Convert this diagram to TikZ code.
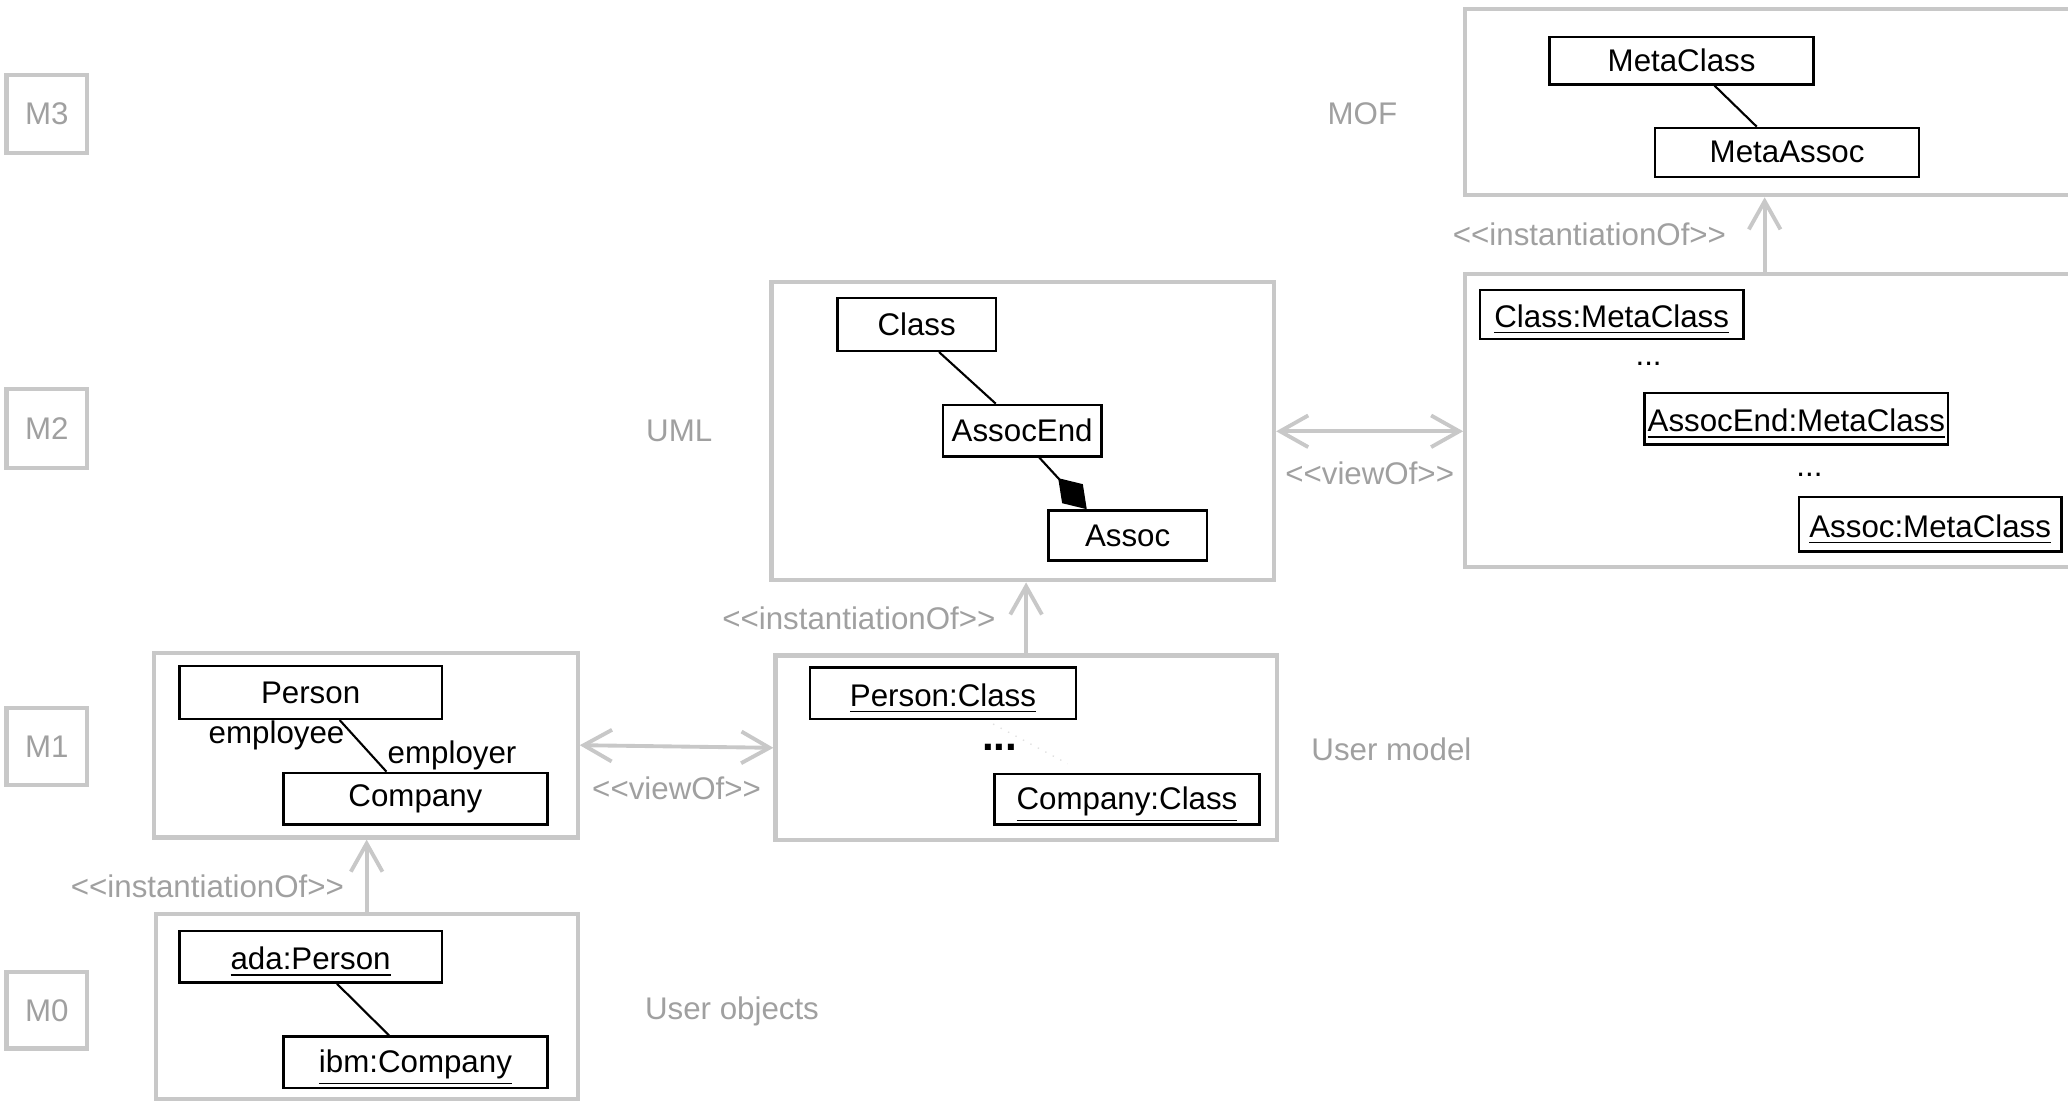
\documentclass[tikz,border=0pt]{standalone}
\usepackage{fontspec}
\setmainfont{Liberation Sans}
\usetikzlibrary{arrows.meta,fit,calc,positioning}
\definecolor{framegray}{RGB}{200,200,200}
\definecolor{labelgray}{RGB}{160,160,160}
\newcommand{\stereo}[1]{<\kern0pt<#1>\kern0pt>}

\begin{document}
\begin{tikzpicture}[x=0.013189cm, y=-0.013189cm,
		every node/.style={font=\fontsize{8.9}{10.7}\selectfont},
		every label/.style={inner sep=0},
		level/.style={draw=framegray, line width=1.2pt, inner sep=0},
		layer/.style={draw=framegray, line width=1.2pt, inner sep=0},
		cls/.style={draw, line width=0.7pt, inner sep=0},
		obj/.style={cls, label={[yshift=-1.5pt]center:\underline{#1}}},
		note/.style={text=labelgray},
		link/.style={line width=0.6pt},
		inst/.style={draw=framegray, line width=1.1pt, -{Straight Barb[length=8pt,width=9pt]}},
		view/.style={draw=framegray, line width=1.1pt, {Straight Barb[length=8pt,width=9pt]}-{Straight Barb[length=8pt,width=9pt]}}]
		\useasboundingbox (0,0) rectangle (1568,836);
		% levels
		\node[level, fit={(5,57) (66,116)}, label={[text=labelgray]center:M3}] (m3) {};
		\node[level, fit={(5,295) (66,355)}, label={[text=labelgray]center:M2}] (m2) {};
		\node[level, fit={(5,537) (66,595)}, label={[text=labelgray]center:M1}] (m1) {};
		\node[level, fit={(5,737) (66,795)}, label={[text=labelgray]center:M0}] (m0) {};
		\node[note] (moflabel) at (1033,86) {MOF};
		\node[note] (umllabel) at (515,327) {UML};
		\node[note] (modellabel) at (1055,568) {User model};
		\node[note] (objectslabel) at (555,767) {User objects};
		% M3
		\node[layer, fit={(1111,7) (1575,148)}] (mof) {};
		\node[cls, fit={(1175,28) (1375,64)}, label=center:MetaClass] (metaclass) {};
		\node[cls, fit={(1255,97) (1455,134)}, label=center:MetaAssoc] (metaassoc) {};
		\draw[link] ($(metaclass.south)+(25,0)$) -- ($(metaassoc.north)+(-23,0)$);
		% M2
		\node[layer, fit={(1111,208) (1575,430)}] (metaobj) {};
		\node[obj=Class:MetaClass, fit={(1122,220) (1322,257)}] (classobj) {};
		\node (dotsa) at (1250,276) {...};
		\node[obj=AssocEnd:MetaClass, fit={(1247,298) (1477,337)}] (assocendobj) {};
		\node (dotsb) at (1372,360) {...};
		\node[obj=Assoc:MetaClass, fit={(1364,377) (1563,418)}] (assocobj) {};
		\node[layer, fit={(585,214) (966,440)}] (uml) {};
		\node[cls, fit={(635,226) (755,266)}, label=center:Class] (class) {};
		\node[cls, fit={(715,307) (835,346)}, label=center:AssocEnd] (assocend) {};
		\node[cls, fit={(795,387) (915,425)}, label=center:Assoc] (assoc) {};
		\draw[link] ($(class.south)+(17,0)$) -- ($(assocend.north)+(-20,0)$);
		\draw[link, -{Diamond[length=12pt,width=8pt]}] ($(assocend.south)+(13,0)$) -- ($(assoc.north)+(-31,0)$);
		% M1
		\node[layer, fit={(588,497) (968,637)}] (usermodel) {};
		\node[obj=Person:Class, fit={(614,506) (816,545)}] (personcls) {};
		\node (dotsc) at (758,567) {\large\textbf{...}};
		\node[obj=Company:Class, fit={(754,587) (955,625)}] (companycls) {};
		\draw[black!12, dotted] ($(personcls.south)+(38,3)$) -- ($(companycls.north)+(-45,-7)$);
		\node[layer, fit={(117,495) (438,635)}] (model) {};
		\node[cls, fit={(136,505) (335,545)}, label=center:Person] (person) {};
		\node[cls, fit={(215,586) (415,625)}, label=center:Company] (company) {};
		\draw[link] ($(person.south)+(22,0)$) -- ($(company.north)+(-22,0)$)
			node[pos=0.3, left=-1pt] {employee}
			node[pos=0.68, right=1pt] {employer};
		% M0
		\node[layer, fit={(118,693) (438,833)}] (objects) {};
		\node[obj=ada:Person, fit={(136,706) (335,745)}] (ada) {};
		\node[obj=ibm:Company, fit={(215,786) (415,825)}] (ibm) {};
		\draw[link] ($(ada.south)+(20,0)$) -- ($(ibm.north)+(-20,0)$);
		% relations between levels
		\coordinate (mofx) at (1338,0);
		\draw[inst] (mofx |- metaobj.north) -- (mofx |- mof.south)
			node[midway, left=0.25cm, note] {\stereo{instantiationOf}};
		\draw[inst] (usermodel.north) -- (usermodel.north |- uml.south)
			node[midway, left=0.17cm, note] {\stereo{instantiationOf}};
		\draw[inst] (objects.north) -- (objects.north |- model.south)
			node[midway, left=0.09cm, yshift=-3pt, note] {\stereo{instantiationOf}};
		\draw[view] (uml.east) -- (uml.east -| metaobj.west)
			node[midway, below=0.17cm, note] {\stereo{viewOf}};
		\draw[view] (model.east) -- (usermodel.west)
			node[midway, below=0.17cm, note] {\stereo{viewOf}};
	\end{tikzpicture}
\end{document}
